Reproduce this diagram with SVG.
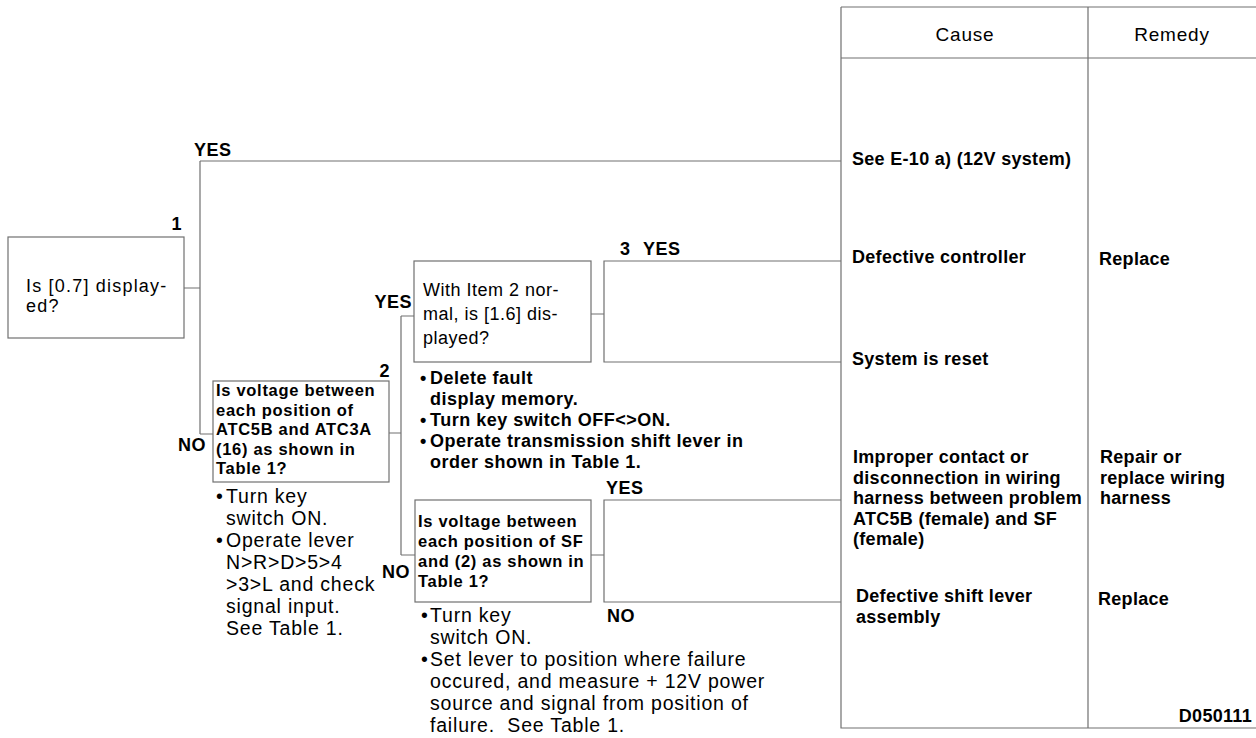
<svg xmlns="http://www.w3.org/2000/svg" width="1256" height="738" viewBox="0 0 1256 738">
<style>
text{font-family:"Liberation Sans",Arial,sans-serif;fill:#000}
.t1{font-size:18px;letter-spacing:1.2px}
.t3{font-size:18px;letter-spacing:0.5px}
.tb3{font-size:18px;font-weight:bold;letter-spacing:0.5px}
.bs{font-size:16.5px;font-weight:bold;letter-spacing:0.7px}
.bl{font-size:19.5px;letter-spacing:0.8px}
.h{font-size:19px;letter-spacing:0.8px}
.c{font-size:18px;font-weight:bold;letter-spacing:0.3px}
.lbl{font-size:18px;font-weight:bold;letter-spacing:0.5px}
.box{fill:#fff;stroke:#707070;stroke-width:1.2}
.ln{fill:none;stroke:#707070;stroke-width:1.2}
</style>
<rect width="1256" height="738" fill="#fff"/>
<g id="table">
<path class="ln" d="M841 7H1256M841 58H1256M841 7V728H1256M1088 7V728"/>
<text class="h" x="965" y="41" text-anchor="middle">Cause</text>
<text class="h" x="1172" y="41" text-anchor="middle">Remedy</text>
<text class="c" x="852" y="165">See E-10 a) (12V system)</text>
<text class="c" x="852" y="263">Defective controller</text>
<text class="c" x="1099" y="265">Replace</text>
<text class="c" x="852" y="365">System is reset</text>
<text class="c" x="853" y="463">Improper contact or<tspan x="853" dy="20.5">disconnection in wiring</tspan><tspan x="853" dy="20.5">harness between problem</tspan><tspan x="853" dy="20.5">ATC5B (female) and SF</tspan><tspan x="853" dy="20.5">(female)</tspan></text>
<text class="c" x="1100" y="463">Repair or<tspan x="1100" dy="20.5">replace wiring</tspan><tspan x="1100" dy="20.5">harness</tspan></text>
<text class="c" x="856" y="602">Defective shift lever<tspan x="856" dy="20.5">assembly</tspan></text>
<text class="c" x="1098" y="605">Replace</text>
<text class="c" x="1252" y="722" text-anchor="end">D050111</text>
</g>
<g id="connectors">
<path class="ln" d="M184 288H200M200 161V434M200 161H841M200 434H213"/>
<path class="ln" d="M389 433H401M401 316V555M401 316H414M401 555H415"/>
<path class="ln" d="M591 314H604M841 261H604V362H841"/>
<path class="ln" d="M591 555H604M841 500H604V602H841"/>
<text class="lbl" x="194" y="156">YES</text>
<text class="lbl" x="178" y="451">NO</text>
<text class="lbl" x="412" y="308" text-anchor="end">YES</text>
<text class="lbl" x="382" y="578">NO</text>
<text class="lbl" x="620" y="255">3</text>
<text class="lbl" x="643" y="255">YES</text>
<text class="lbl" x="606" y="494">YES</text>
<text class="lbl" x="607" y="622">NO</text>
</g>
<g id="node1">
<rect class="box" x="8" y="237" width="176" height="101"/>
<text class="lbl" x="182" y="230" text-anchor="end">1</text>
<text class="t1" x="26" y="292">Is [0.7] display-<tspan x="26" dy="19.5">ed?</tspan></text>
</g>
<g id="node2">
<rect class="box" x="213" y="381" width="176" height="101"/>
<text class="lbl" x="390" y="377" text-anchor="end">2</text>
<text class="bs" x="216" y="396">Is voltage between<tspan x="216" dy="19.5">each position of</tspan><tspan x="216" dy="19.5">ATC5B and ATC3A</tspan><tspan x="216" dy="19.5">(16) as shown in</tspan><tspan x="216" dy="19.5">Table 1?</tspan></text>
<text class="bl" y="503"><tspan x="216">•</tspan><tspan x="226">Turn key</tspan><tspan x="226" dy="22">switch ON.</tspan><tspan x="216" dy="22">•</tspan><tspan x="226">Operate lever</tspan><tspan x="226" dy="22">N&gt;R&gt;D&gt;5&gt;4</tspan><tspan x="226" dy="22">&gt;3&gt;L and check</tspan><tspan x="226" dy="22">signal input.</tspan><tspan x="226" dy="22">See Table 1.</tspan></text>
</g>
<g id="node3">
<rect class="box" x="414" y="261" width="177" height="101"/>
<text class="t3" x="423" y="296">With Item 2 nor-<tspan x="423" dy="24">mal, is [1.6] dis-</tspan><tspan x="423" dy="24">played?</tspan></text>
<text class="tb3" y="384"><tspan x="420">•</tspan><tspan x="430">Delete fault</tspan><tspan x="430" dy="21">display memory.</tspan><tspan x="420" dy="21">•</tspan><tspan x="430">Turn key switch OFF&lt;&gt;ON.</tspan><tspan x="420" dy="21">•</tspan><tspan x="430">Operate transmission shift lever in</tspan><tspan x="430" dy="21">order shown in Table 1.</tspan></text>
</g>
<g id="node4">
<rect class="box" x="415" y="500" width="176" height="102"/>
<text class="bs" x="418" y="527">Is voltage between<tspan x="418" dy="20">each position of SF</tspan><tspan x="418" dy="20">and (2) as shown in</tspan><tspan x="418" dy="20">Table 1?</tspan></text>
<text class="bl" y="622"><tspan x="421">•</tspan><tspan x="430">Turn key</tspan><tspan x="430" dy="22">switch ON.</tspan><tspan x="421" dy="22">•</tspan><tspan x="430">Set lever to position where failure</tspan><tspan x="430" dy="22">occured, and measure + 12V power</tspan><tspan x="430" dy="22">source and signal from position of</tspan><tspan x="430" dy="22">failure.&#160; See Table 1.</tspan></text>
</g>
</svg>
